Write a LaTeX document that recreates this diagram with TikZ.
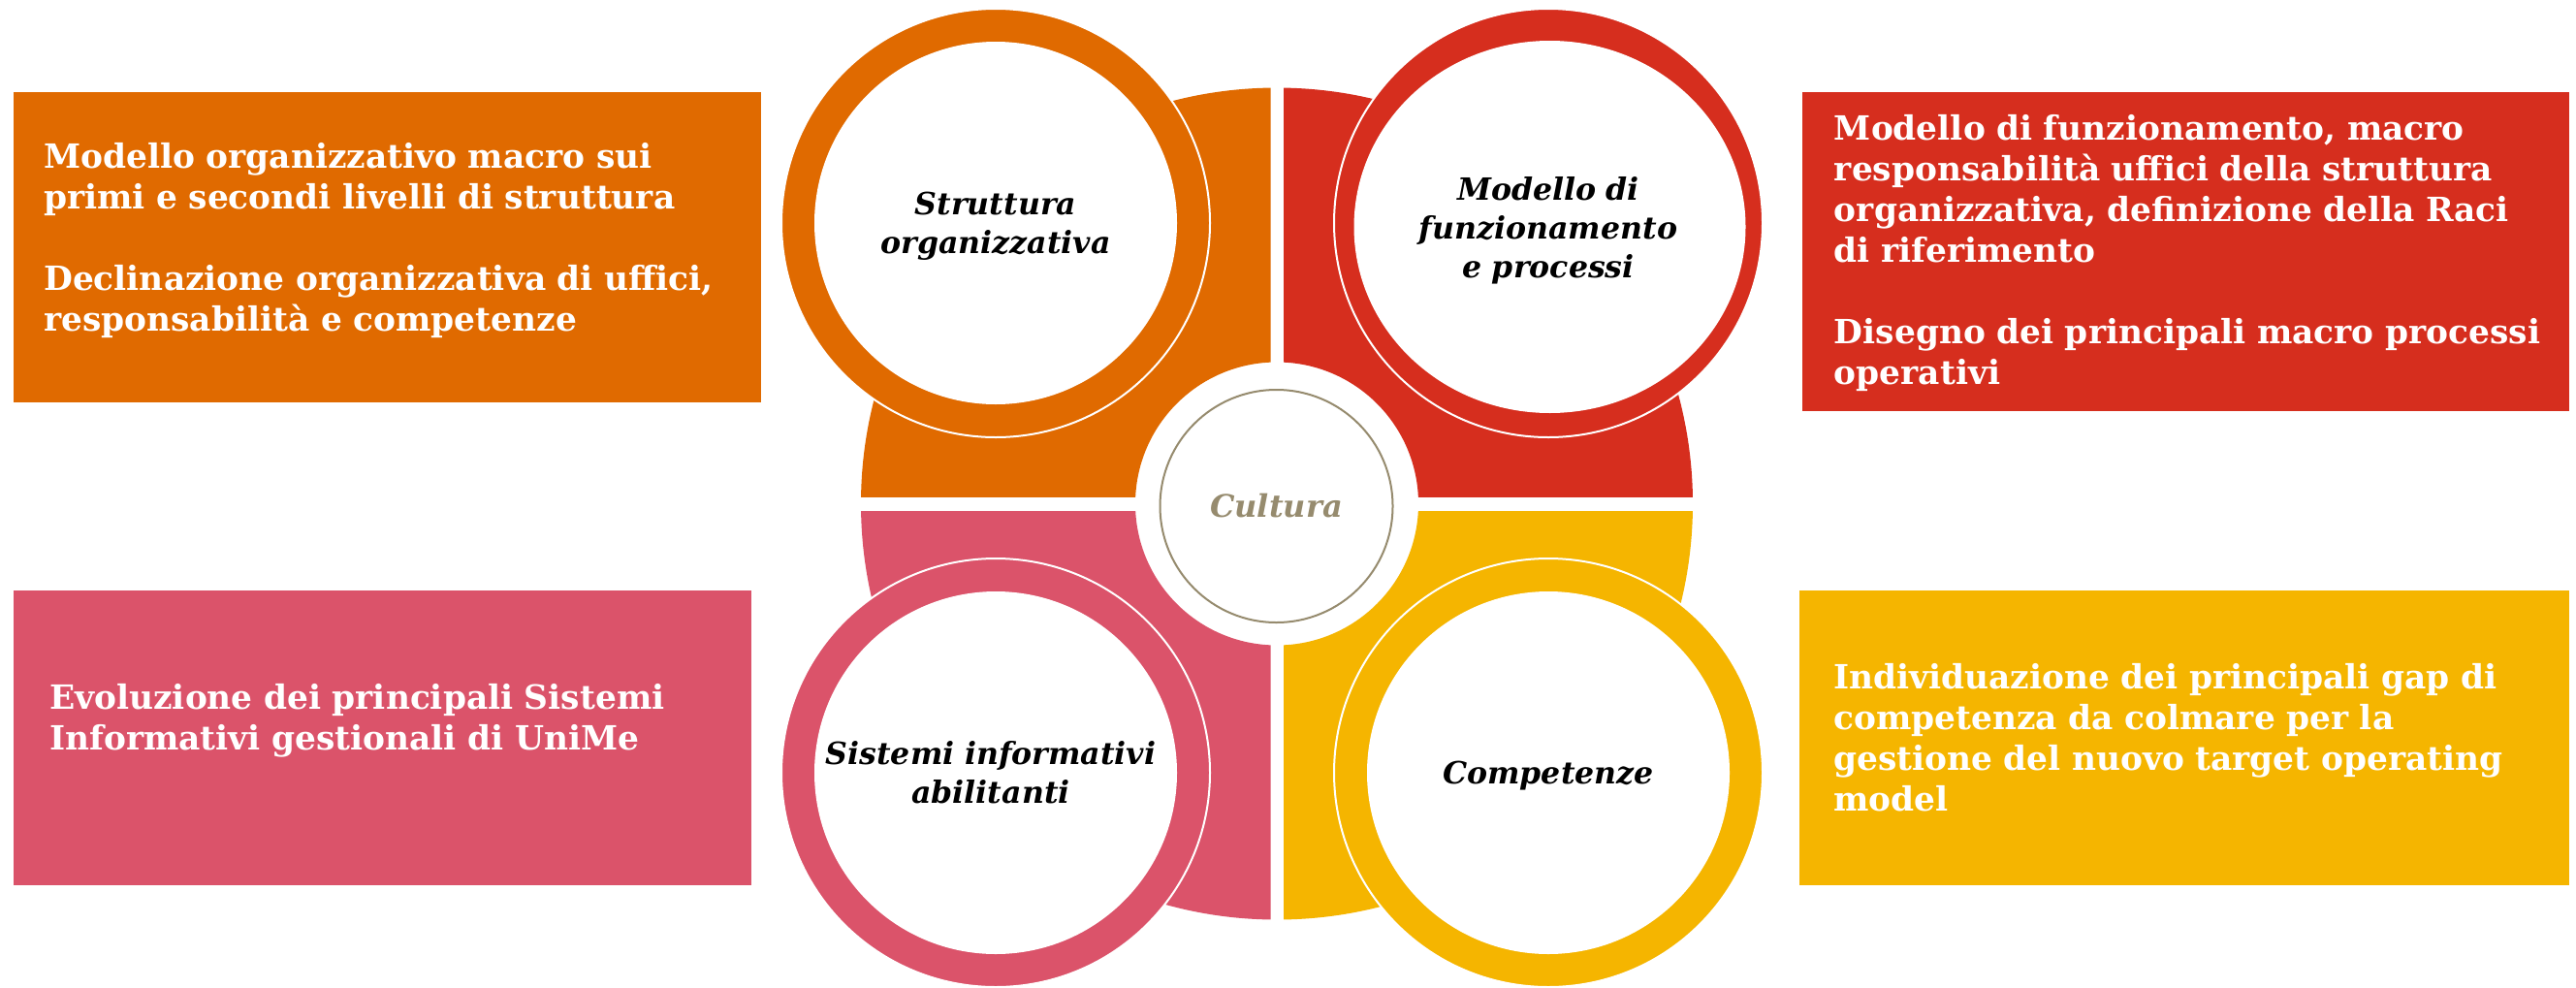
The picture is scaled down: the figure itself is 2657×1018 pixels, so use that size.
\documentclass[tikz,border=0pt]{standalone}
\usepackage{fontspec}
\setmainfont{DejaVu Serif}
\definecolor{cOr}{HTML}{E06A00}
\definecolor{cRd}{HTML}{D62E1E}
\definecolor{cPk}{HTML}{DB536A}
\definecolor{cYl}{HTML}{F5B500}
\definecolor{cOl}{HTML}{968B6E}
\tikzset{
  infobox/.style={rectangle, inner sep=0pt, anchor=north west, draw=none},
  boxtext/.style={anchor=base west, inner sep=0pt, text width=780pt, align=left,
    text=white, font=\fontsize{34.4}{42}\selectfont\bfseries},
  ringouter/.style={circle, inner sep=0pt, minimum size=442pt, draw=white, line width=2pt},
  ringinner/.style={circle, inner sep=0pt, minimum size=374pt, fill=white},
  ringlabel/.style={anchor=base, inner sep=0pt, text width=400pt, align=center,
    text=black, font=\fontsize{31.6}{39.7}\selectfont\bfseries\itshape},
}
\begin{document}
\begin{tikzpicture}[x=1pt,y=-1pt]
\useasboundingbox (0,0) rectangle (2657,1018);
\fill[white] (0,0) rectangle (2657,1018);

% side boxes
\node[infobox, fill=cOr, minimum width=771pt, minimum height=320pt] (bOr) at (14,95) {};
\node[infobox, fill=cRd, minimum width=791pt, minimum height=329pt] (bRd) at (1859,95) {};
\node[infobox, fill=cPk, minimum width=761pt, minimum height=304pt] (bPk) at (14,609) {};
\node[infobox, fill=cYl, minimum width=794pt, minimum height=304pt] (bYl) at (1856,609) {};

\node[boxtext] (tOr) at (45,173.3) {Modello organizzativo macro sui\\primi e secondi livelli di struttura\\[42pt]Declinazione organizzativa di uffici,\\responsabilità e competenze};
\node[boxtext] (tRd) at (1891.7,144) {Modello di funzionamento, macro\\responsabilità uffici della struttura\\organizzativa, definizione della Raci\\di riferimento\\[42pt]Disegno dei principali macro processi\\operativi};
\node[boxtext] (tPk) at (51,731.7) {Evoluzione dei principali Sistemi\\Informativi gestionali di UniMe};
\node[boxtext] (tYl) at (1891,710) {Individuazione dei principali gap di\\competenza da colmare per la\\gestione del nuovo target operating\\model};

% quadrant annulus
\begin{scope}
\clip (800,40) rectangle (1310.5,512);
\fill[cOr, even odd rule] (1317,519.5) circle (429) (1317,519.5) circle (146);
\end{scope}
\begin{scope}
\clip (1324,40) rectangle (1800,512);
\fill[cRd, even odd rule] (1317,519.5) circle (429) (1317,519.5) circle (146);
\end{scope}
\begin{scope}
\clip (800,527) rectangle (1310.5,1000);
\fill[cPk, even odd rule] (1317,519.5) circle (429) (1317,519.5) circle (146);
\end{scope}
\begin{scope}
\clip (1324,527) rectangle (1800,1000);
\fill[cYl, even odd rule] (1317,519.5) circle (429) (1317,519.5) circle (146);
\end{scope}

% rings
\node[ringouter, fill=cOr] (rOr) at (1027,230) {};
\node[ringinner] (iOr) at (1027,230) {};
\node[ringouter, fill=cRd] (rRd) at (1597,230) {};
\fill[white] (1598.5,234) ellipse [x radius=202, y radius=192];
\node[ringouter, fill=cPk] (rPk) at (1027,797) {};
\node[ringinner] (iPk) at (1027,797) {};
\node[ringouter, fill=cYl] (rYl) at (1597,797) {};
\node[ringinner] (iYl) at (1597,797) {};

% centre
\node[circle, draw=cOl, line width=2pt, fill=white, minimum size=240pt, inner sep=0pt,
  text=cOl, font=\fontsize{32}{38}\selectfont\bfseries\itshape] (cult) at (1316.5,522) {Cultura};

% ring labels
\node[ringlabel] (lOr) at (1027,221.7) {Struttura\\organizzativa};
\node[ringlabel] (lRd) at (1597,206.7) {Modello di\\funzionamento\\e processi};
\node[ringlabel] (lPk) at (1022,788.3) {Sistemi informativi\\abilitanti};
\node[ringlabel] (lYl) at (1597,808.3) {Competenze};
\end{tikzpicture}
\end{document}
